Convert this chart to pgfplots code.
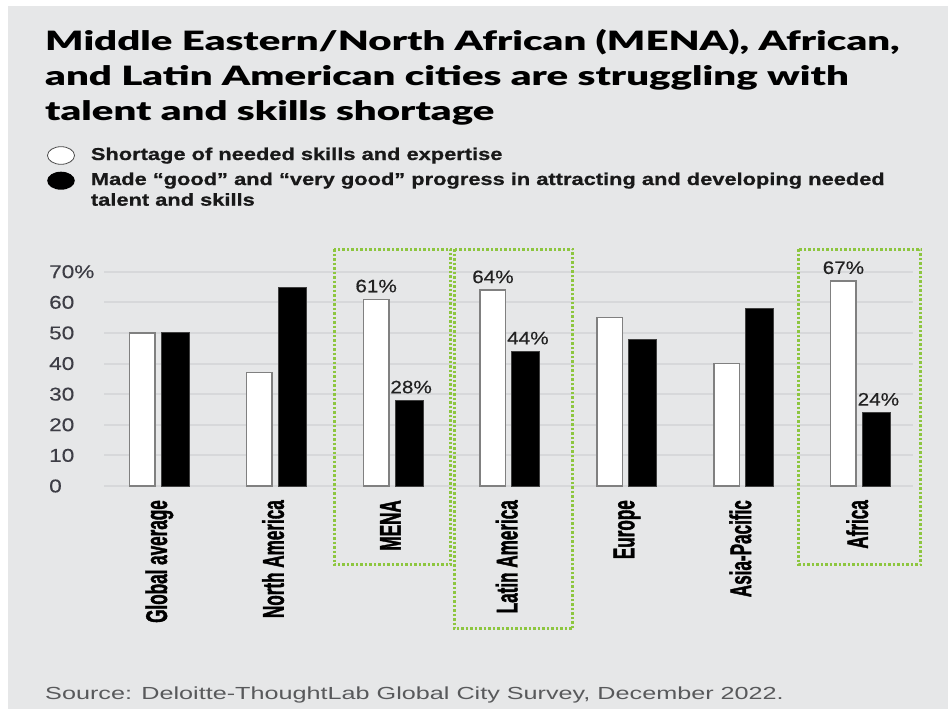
\documentclass[border=0pt]{standalone}
\usepackage{fontspec}
\usepackage{pgfplots}
\pgfplotsset{compat=1.18}
\setmainfont{Liberation Sans}
\newfontfamily\titlefont[FakeStretch=1.51]{Lato Black}
\newfontfamily\legfont[FakeStretch=1.27, FakeBold=0.8]{Liberation Sans Bold}
\newfontfamily\tickfont[FakeStretch=1.22, FakeBold=0.3]{Liberation Sans}
\newfontfamily\valfont[FakeStretch=1.15, FakeBold=0.3]{Liberation Sans}
\newfontfamily\catfont[FakeStretch=0.57, FakeBold=1.2]{Liberation Sans Bold}
\newfontfamily\srcfont[FakeStretch=1.44]{Liberation Sans}
\definecolor{bgc}{HTML}{E6E7E8}
\definecolor{gridc}{HTML}{D7D8DA}
\definecolor{boxc}{HTML}{8DC63F}
\definecolor{tickc}{HTML}{3D3D45}
\definecolor{valc}{HTML}{222222}
\definecolor{srcc}{HTML}{58595B}
\definecolor{barline}{HTML}{808080}
\begin{document}
\begin{tikzpicture}
\path[use as bounding box] (0pt,0pt) rectangle (948pt,-709pt);
\fill[bgc] (8pt,-6pt) rectangle (948pt,-709pt);
% title
\node[anchor=base west, inner sep=0pt, text=black] at (45pt,-50.7pt) {\titlefont\fontsize{26.6}{30}\selectfont Middle Eastern/North African (MENA), African,};
\node[anchor=base west, inner sep=0pt, text=black] at (45pt,-85.7pt) {\titlefont\fontsize{26.6}{30}\selectfont and Latin American cities are struggling with};
\node[anchor=base west, inner sep=0pt, text=black] at (45pt,-120pt) {\titlefont\fontsize{26.6}{30}\selectfont talent and skills shortage};
% legend
\draw[fill=white, draw=black!70, line width=0.8pt] (61pt,-155.5pt) ellipse [x radius=13.5pt, y radius=8.8pt];
\fill[black] (61pt,-180.7pt) ellipse [x radius=13.8pt, y radius=9pt];
\node[anchor=base west, inner sep=0pt, text=black!90] at (90.7pt,-160pt) {\legfont\fontsize{17.2}{20}\selectfont Shortage of needed skills and expertise};
\node[anchor=base west, inner sep=0pt, text=black!90] at (90.7pt,-185pt) {\legfont\fontsize{17.2}{20}\selectfont Made “good” and “very good” progress in attracting and developing needed};
\node[anchor=base west, inner sep=0pt, text=black!90] at (90.7pt,-205.7pt) {\legfont\fontsize{17.2}{20}\selectfont talent and skills};
% source
\node[anchor=base west, inner sep=0pt, text=srcc] at (45pt,-699pt) {\srcfont\fontsize{17.5}{20}\selectfont Source: Deloitte-ThoughtLab Global City Survey, December 2022.};
\begin{axis}[
  at={(104pt,-486pt)}, anchor=south west,
  scale only axis, width=809pt, height=214.3pt,
  xmin=-0.475, xmax=6.45, ymin=0, ymax=70,
  clip=false,
  axis line style={draw=none},
  major tick length=0pt,
  ytick={0,10,...,70},
  yticklabels={0,10,20,30,40,50,60,70\%},
  ymajorgrids,
  grid style={draw=gridc, line width=2pt},
  xtick={0,...,6},
  xticklabels={Global average, North America, MENA, Latin America, Europe, Asia-Pacific, Africa},
  yticklabel style={anchor=west, inner sep=0pt, xshift=-55pt, text=tickc, font=\tickfont\fontsize{18.5}{20}\selectfont},
  xticklabel style={rotate=90, anchor=east, inner xsep=14pt, inner ysep=0pt, text height=22pt, text depth=7pt, text=black, font=\catfont\fontsize{30}{32}\selectfont},
  every node near coord/.append style={anchor=base, inner sep=0pt, yshift=7pt, text=valc, font=\valfont\fontsize{18}{20}\selectfont},
]
\addplot[ybar, bar width=25.5pt, bar shift=-17pt, fill=white, draw=barline, line width=1.5pt,
  nodes near coords, point meta=explicit symbolic,
  every node near coord/.append style={xshift=-17pt}]
  coordinates {(0,50) (1,37) (2,61) [61\%] (3,64) [64\%] (4,55) (5,40) (6,67) [67\%]};
\addplot[ybar, bar width=28pt, bar shift=16pt, fill=black, draw=black!75, line width=1pt,
  nodes near coords, point meta=explicit symbolic,
  every node near coord/.append style={xshift=18pt}]
  coordinates {(0,50) (1,65) (2,28) [28\%] (3,44) [44\%] (4,48) (5,58) (6,24) [24\%]};
% highlight boxes
\draw[boxc, line width=3pt, dash pattern=on 2.5pt off 2pt]
  (axis cs:1.494,77.4) rectangle (axis cs:2.495,-25.8);
\draw[boxc, line width=3pt, dash pattern=on 2.5pt off 2pt]
  (axis cs:2.521,77.4) rectangle (axis cs:3.539,-46.7);
\draw[boxc, line width=3pt, dash pattern=on 2.5pt off 2pt]
  (axis cs:5.474,77.4) rectangle (axis cs:6.518,-25.8);
\end{axis}
\end{tikzpicture}
\end{document}
